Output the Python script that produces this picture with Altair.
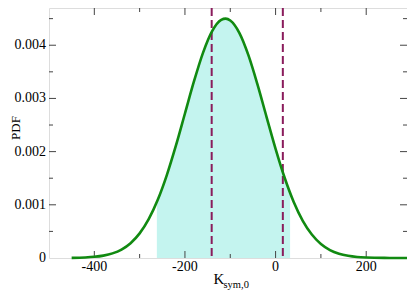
import altair as alt
import pandas as pd

# PDF curve
curve_x = [-450, -420, -400, -380, -360, -340, -320, -300, -280, -260, -240, -220,
           -200, -180, -160, -140, -120, -110, -100, -80, -60, -40, -20, 0, 20, 40, 60,
           80, 100, 120, 140, 160, 180, 200, 240, 300]
curve_y = [0.000003, 0.000010, 0.000022, 0.000045, 0.000087, 0.000159, 0.000279,
           0.000463, 0.000730, 0.001094, 0.001559, 0.002111, 0.002717, 0.003323,
           0.003862, 0.004265, 0.004477, 0.004500, 0.004465, 0.004233, 0.003813, 0.003264,
           0.002655, 0.002053, 0.001508, 0.001053, 0.000699, 0.000441, 0.000264,
           0.000150, 0.000081, 0.000042, 0.000020, 0.0000095, 0.0000018, 0.0]

# shaded (sampled) region under the curve
shade_x = [-262, -260, -240, -220, -200, -180, -160, -140, -120, -110, -100, -80, -60,
           -40, -20, 0, 20, 32]
shade_y = [0.001053, 0.001094, 0.001559, 0.002111, 0.002717, 0.003323, 0.003862,
           0.004265, 0.004477, 0.004500, 0.004465, 0.004233, 0.003813, 0.003264, 0.002655,
           0.002053, 0.001508, 0.001224]

# dashed interval bounds
bounds = [-141, 16]

# axis ticks and labels
x_major = [-400, -200, 0, 200]
x_labels = ["-400", "-200", "0", "200"]
x_minor = [-300, -100, 100]
y_major = [0.001, 0.002, 0.003, 0.004]
y_minor = [0.0005, 0.0015, 0.0025, 0.0035, 0.0045]
y_label_vals = [0, 0.001, 0.002, 0.003, 0.004]
y_labels = ["0", "0.001", "0.002", "0.003", "0.004"]

W, H = 358, 250
FONT = "Liberation Serif"

xs = alt.Scale(domain=[-500, 290], nice=False, zero=False)
ys = alt.Scale(domain=[0, 0.0047], nice=False, zero=False)

curve_df = pd.DataFrame({"x": curve_x, "y": curve_y})
shade_df = pd.DataFrame({"x": shade_x, "y": shade_y})
bounds_df = pd.DataFrame({"x": bounds})
xmaj_df = pd.DataFrame({"x": x_major, "t": x_labels})
xmin_df = pd.DataFrame({"x": x_minor})
ymaj_df = pd.DataFrame({"y": y_major})
ymin_df = pd.DataFrame({"y": y_minor})
ylab_df = pd.DataFrame({"y": y_label_vals, "t": y_labels})

X = alt.X("x:Q", scale=xs, axis=None)
Y = alt.Y("y:Q", scale=ys, axis=None)

shade = alt.Chart(shade_df).mark_area(color="#c4f4ef", interpolate="monotone").encode(
    x=X, y=Y)

curve = alt.Chart(curve_df).mark_line(color="#118a11", strokeWidth=2.6,
                                      interpolate="monotone").encode(x=X, y=Y)

dashed = alt.Chart(bounds_df).mark_rule(color="#8a1c5c", strokeWidth=2,
                                        strokeDash=[8, 4]).encode(
    x=X, y=alt.value(0), y2=alt.value(H))

tick_color = "#444444"


def xticks(df, length):
    bottom = alt.Chart(df).mark_rule(color=tick_color, strokeWidth=1).encode(
        x=X, y=alt.value(H), y2=alt.value(H - length))
    top = alt.Chart(df).mark_rule(color=tick_color, strokeWidth=1).encode(
        x=X, y=alt.value(0), y2=alt.value(length))
    return [bottom, top]


def yticks(df, length):
    left = alt.Chart(df).mark_rule(color=tick_color, strokeWidth=1).encode(
        y=Y, x=alt.value(0), x2=alt.value(length))
    right = alt.Chart(df).mark_rule(color=tick_color, strokeWidth=1).encode(
        y=Y, x=alt.value(W), x2=alt.value(W - length))
    return [left, right]


ticks = xticks(xmaj_df, 7) + xticks(xmin_df, 4) + yticks(ymaj_df, 7) + yticks(ymin_df, 4)

xlabels = alt.Chart(xmaj_df).mark_text(font=FONT, fontSize=14, align="center",
                                       baseline="alphabetic", color="black").encode(
    x=X, y=alt.value(H + 13), text="t:N")
ylabels = alt.Chart(ylab_df).mark_text(font=FONT, fontSize=14, align="right",
                                       baseline="middle", color="black").encode(
    y=Y, x=alt.value(-3), text="t:N")

title_df = pd.DataFrame({"t": ["PDF"]})
ytitle = alt.Chart(title_df).mark_text(font=FONT, fontSize=13, angle=270,
                                       align="center", baseline="alphabetic",
                                       color="black").encode(
    text="t:N", x=alt.value(-29), y=alt.value(120))
k_df = pd.DataFrame({"t": ["K"]})
ktitle = alt.Chart(k_df).mark_text(font=FONT, fontSize=15, align="left",
                                   baseline="alphabetic", color="black").encode(
    text="t:N", x=alt.value(164.5), y=alt.value(276))
sub_df = pd.DataFrame({"t": ["sym,0"]})
subtitle = alt.Chart(sub_df).mark_text(font=FONT, fontSize=10.5, align="left",
                                       baseline="alphabetic", color="black").encode(
    text="t:N", x=alt.value(174.5), y=alt.value(280))

chart = alt.layer(shade, *ticks, dashed, curve, xlabels, ylabels,
                  ytitle, ktitle, subtitle).properties(
    width=W, height=H,
    autosize=alt.AutoSizeParams(type="none"),
    padding={"left": 41, "top": 0, "right": 0, "bottom": 34},
).configure_view(stroke="#707070", strokeWidth=2).configure(background="white")

chart.save("out.html", embed_options={"renderer": "svg", "actions": False})
